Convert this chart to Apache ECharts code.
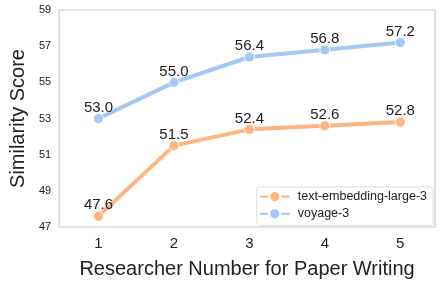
<!DOCTYPE html>
<html><head><meta charset="utf-8">
<script src="https://cdn.jsdelivr.net/npm/echarts@6/dist/echarts.min.js"></script>
<style>html,body{margin:0;padding:0;background:#fff}#c{width:440px;height:284px}</style>
</head><body><div id="c"></div>
<script>
const xValues = [1, 2, 3, 4, 5];
const xTickLabels = ['1', '2', '3', '4', '5'];
const yTicks = [47, 49, 51, 53, 55, 57, 59];
const seriesNames = ['text-embedding-large-3', 'voyage-3'];
const textEmbedding = [47.6, 51.5, 52.4, 52.6, 52.8];
const voyage = [53.0, 55.0, 56.4, 56.8, 57.2];
const colors = ['#FFB482', '#A1C9F4'];
const FF = 'Liberation Sans, Arial, sans-serif';

const chart = echarts.init(document.getElementById('c'), null, {renderer: 'canvas'});
function mk(name, vals, color) {
  return {
    name: name, type: 'line',
    data: xValues.map((x, i) => [x, vals[i]]),
    symbol: 'circle', symbolSize: 10,
    lineStyle: {width: 4, color: color},
    itemStyle: {color: color, borderColor: '#fff', borderWidth: 0.8},
    label: {show: true, position: 'top', distance: -2, color: '#222', fontSize: 15, fontFamily: FF,
      formatter: p => p.value[1].toFixed(1)},
    z: 3
  };
}
chart.setOption({
  animation: false,
  grid: {left: 56, right: 5, top: 10, bottom: 51, show: true, borderColor: '#cccccc', borderWidth: 1.2},
  xAxis: {
    type: 'value', min: 0.478, max: 5.46,
    name: 'Researcher Number for Paper Writing', nameLocation: 'middle', nameGap: 32,
    nameTextStyle: {fontSize: 20, color: '#222', fontFamily: FF},
    axisLine: {show: false}, axisTick: {show: false}, splitLine: {show: false},
    axisLabel: {fontSize: 15, color: '#222', margin: 9, fontFamily: FF,
      customValues: xValues,
      formatter: v => xTickLabels[xValues.indexOf(v)] || ''}
  },
  yAxis: {
    type: 'value', min: 47, max: 59, interval: 2,
    name: 'Similarity Score', nameLocation: 'middle', nameGap: 27,
    nameTextStyle: {fontSize: 20, color: '#222', fontFamily: FF},
    axisLine: {show: false}, axisTick: {show: false}, splitLine: {show: false},
    axisLabel: {fontSize: 11, color: '#222', margin: 8, fontFamily: FF,
      formatter: v => (yTicks.indexOf(v) >= 0 ? String(v) : '')}
  },
  legend: {
    data: seriesNames,
    orient: 'vertical', right: 7, top: 187,
    backgroundColor: '#fff', borderColor: '#dddddd', borderWidth: 1, borderRadius: 3,
    padding: [3, 6, 5, 2], itemGap: 4, itemWidth: 30, itemHeight: 14,
    textStyle: {fontSize: 12.5, color: '#222', fontFamily: FF, padding: [0, 0, 0, 3]}
  },
  series: [mk(seriesNames[0], textEmbedding, colors[0]), mk(seriesNames[1], voyage, colors[1])]
});
</script></body></html>
